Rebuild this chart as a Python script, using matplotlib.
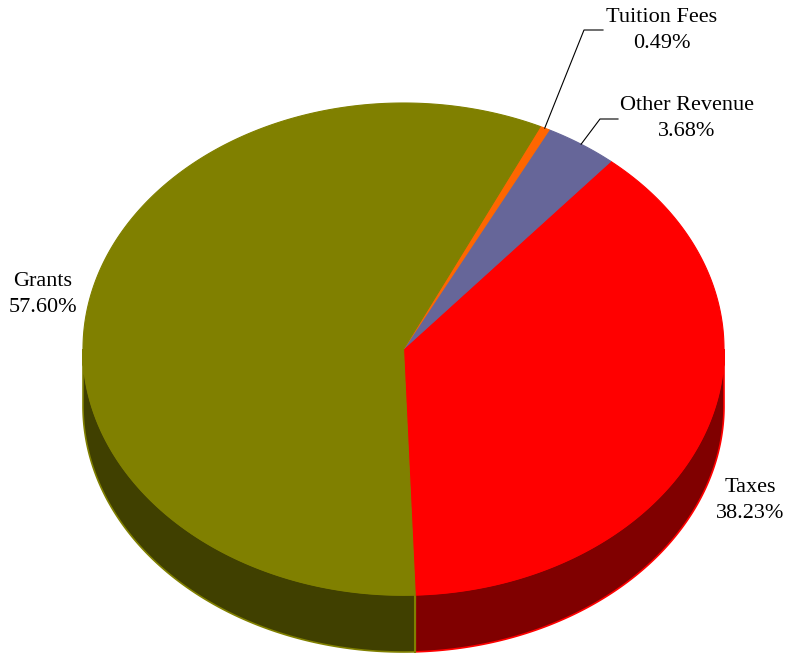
import matplotlib.pyplot as plt
import numpy as np
from matplotlib.patches import Polygon

labels = ["Taxes", "Other Revenue", "Tuition Fees", "Grants"]
values = [38.23, 3.68, 0.49, 57.60]
top_colors = ["#FF0000", "#666699", "#FF6600", "#808000"]
side_colors = ["#800000", "#333366", "#803300", "#404000"]

# geometry in pixel coords
cx, cy = 403.5, 349.0
rx, ry = 320.5, 246.0
depth = 57.0
start = -87.9


def pt(t, dy=0.0):
    r = np.radians(t)
    return cx + rx * np.cos(r), cy - ry * np.sin(r) + dy


def main():
    fig = plt.figure(figsize=(7.86, 6.53), dpi=100)
    ax = fig.add_axes([0, 0, 1, 1])
    ax.set_xlim(0, 786)
    ax.set_ylim(653, 0)
    ax.axis("off")

    total = sum(values)
    angles = [start]
    for v in values:
        angles.append(angles[-1] + v / total * 360.0)

    # side walls (front half only)
    for i in range(len(values)):
        t1, t2 = angles[i], angles[i + 1]
        for off in (0, 360, -360):
            a1 = max(t1 + off, 180)
            a2 = min(t2 + off, 360)
            if a2 > a1:
                ts = np.linspace(a1, a2, 200)
                top = [pt(t) for t in ts]
                bot = [pt(t, depth) for t in ts[::-1]]
                ax.add_patch(Polygon(top + bot, closed=True, facecolor=side_colors[i],
                                     edgecolor=top_colors[i], lw=1.2, zorder=1))

    # seam between Grants and Taxes on the side
    x0, y0 = pt(start)
    ax.plot([x0, x0], [y0, y0 + depth], color="#808000", lw=1.5, zorder=2)

    # top faces
    for i in range(len(values)):
        ts = np.linspace(angles[i], angles[i + 1], 400)
        verts = [(cx, cy)] + [pt(t) for t in ts]
        ax.add_patch(Polygon(verts, closed=True, facecolor=top_colors[i],
                             edgecolor=top_colors[i], lw=0.8, zorder=3))

    font = dict(family="Liberation Serif", fontsize=16, ha="center", va="center",
                linespacing=1.5, color="black")
    texts = [f"{l}\n{v:.2f}%" for l, v in zip(labels, values)]
    mids = [(angles[i] + angles[i + 1]) / 2 for i in range(len(values))]

    ax.text(750, 501, texts[0], **font)
    ax.text(687, 119, texts[1], **font)
    ax.text(662, 31, texts[2], **font)
    ax.text(43, 294, texts[3], **font)

    # leader lines
    mx, my = pt(mids[1])
    ax.plot([mx, 600, 618], [my, 119, 119], color="black", lw=0.8, zorder=4)
    mx, my = pt(mids[2])
    ax.plot([mx, 584, 603], [my, 30, 30], color="black", lw=0.8, zorder=4)

    fig.savefig("out.png", dpi=100)


if __name__ == "__main__":
    main()
